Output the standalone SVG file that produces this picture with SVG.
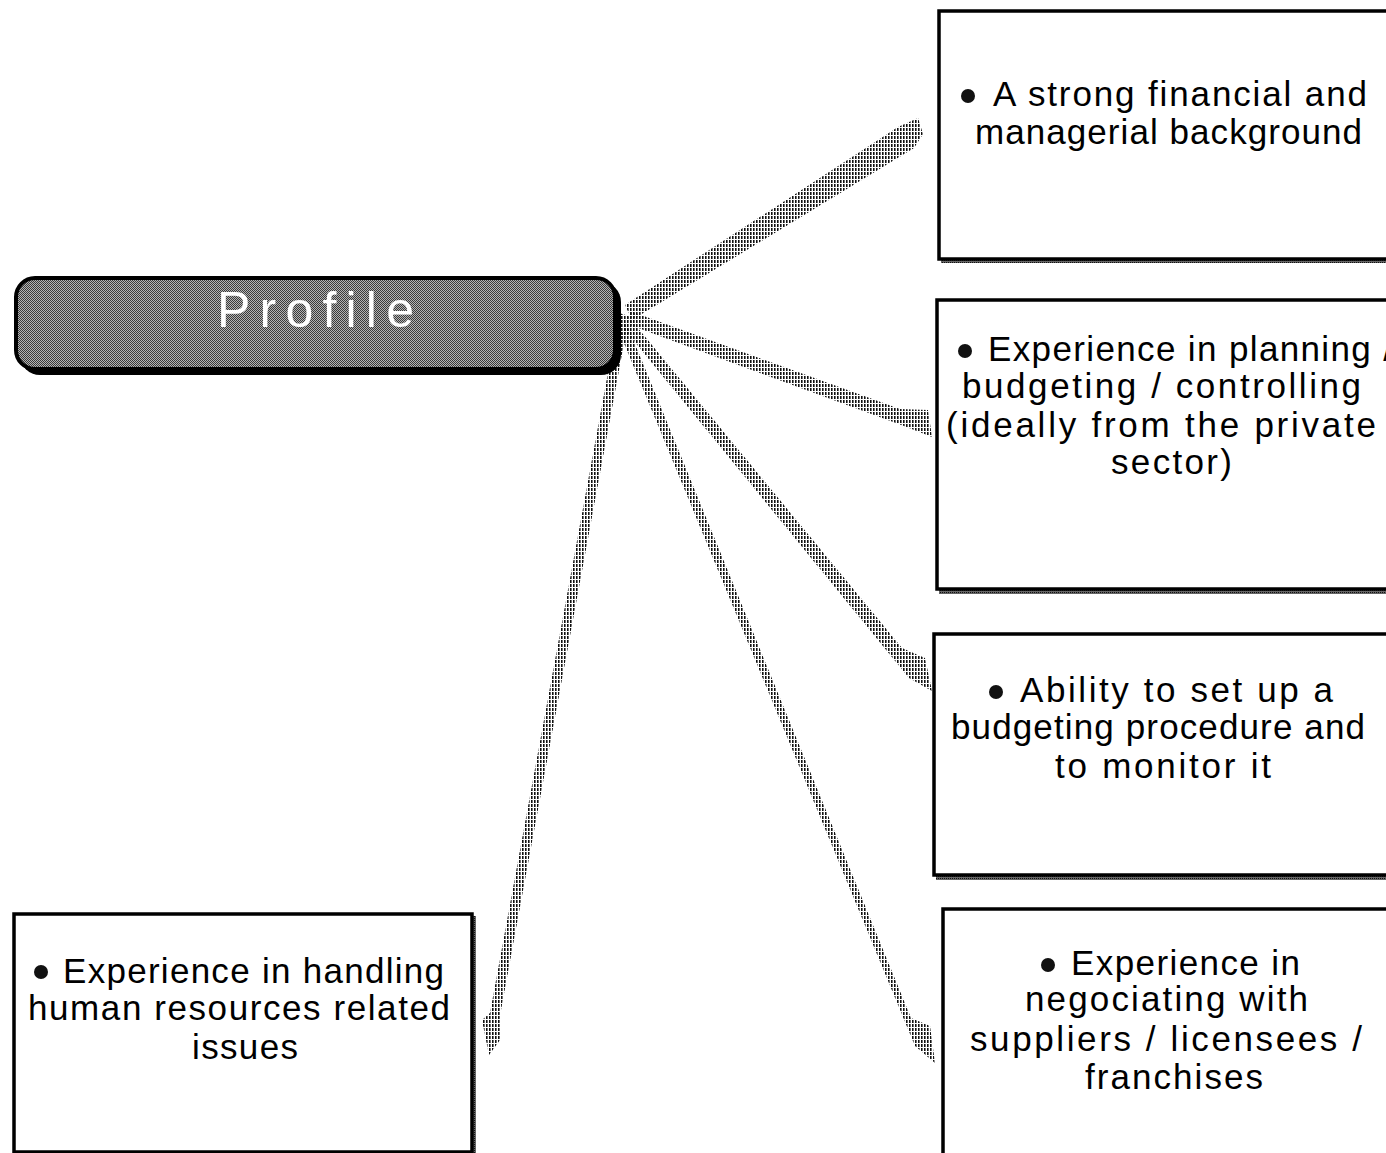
<svg xmlns="http://www.w3.org/2000/svg" width="1386" height="1153" viewBox="0 0 1386 1153">
  <defs>
    <!-- checker dither used for the title bar -->
    <pattern id="dither" width="2" height="2" patternUnits="userSpaceOnUse">
      <rect width="2" height="2" fill="#b4b4b4"/>
      <rect x="0" y="0" width="1" height="1" fill="#3a3a3a"/>
      <rect x="1" y="1" width="1" height="1" fill="#3a3a3a"/>
    </pattern>
    <!-- short vertical strokes used to fill the connector wedges -->
    <pattern id="hatch" width="3" height="4" patternUnits="userSpaceOnUse">
      <rect x="0" y="0" width="1.6" height="3" fill="#111"/>
    </pattern>
    <!-- grey drop shadow under boxes -->
    <pattern id="shade" width="2" height="2" patternUnits="userSpaceOnUse">
      <rect width="2" height="2" fill="#666"/>
      <rect x="0" y="0" width="1" height="1" fill="#111"/>
    </pattern>
  </defs>
  <style>
    .box { fill: #fff; stroke: #000; stroke-width: 3.5; }
    .shadow { fill: url(#shade); }
    .txt { font-family: "Liberation Sans", "DejaVu Sans", sans-serif; font-size: 35px; fill: #000; }
    .bullet { fill: #111; }
    .wedge { fill: url(#hatch); }
  </style>

  <rect width="1386" height="1153" fill="#fff"/>

  <!-- connectors fanning out from the title bar -->
  <g id="connectors">
    <polygon class="wedge" points="625,305 898,127 918,118 923,134 914,148 632,320"/>
    <polygon class="wedge" points="630,311 900,409 928,410 932,437 904,426 630,325"/>
    <polygon class="wedge" points="628,316 902,648 925,658 932,691 909,678 625,330"/>
    <polygon class="wedge" points="626,322 911,1018 930,1026 935,1063 915,1046 621,336"/>
    <polygon class="wedge" points="619,313 629,316 501,1010 500,1040 489,1055 482,1020 490,1013"/>
  </g>

  <!-- title bar -->
  <g id="profile">
    <rect x="20" y="282" width="601" height="93" rx="20" fill="#000"/>
    <rect x="16" y="278" width="599" height="91" rx="19" fill="url(#dither)" stroke="#000" stroke-width="4"/>
    <text x="217" y="327" font-family="Liberation Sans, DejaVu Sans, sans-serif" font-size="50" fill="#fff" textLength="197" lengthAdjust="spacing">Profile</text>
  </g>

  <g id="node-financial">
    <rect class="shadow" x="941" y="258" width="450" height="5"/>
    <rect class="box" x="939" y="11" width="460" height="248"/>
    <circle class="bullet" cx="968" cy="96" r="7"/>
    <text class="txt" x="993" y="106" textLength="374" lengthAdjust="spacing">A strong financial and</text>
    <text class="txt" x="975" y="144" textLength="387" lengthAdjust="spacing">managerial background</text>
  </g>

  <g id="node-planning">
    <rect class="shadow" x="939" y="589" width="450" height="5"/>
    <rect class="box" x="937" y="300" width="462" height="289"/>
    <circle class="bullet" cx="965" cy="351" r="7"/>
    <text class="txt" x="988" y="361" textLength="405" lengthAdjust="spacing">Experience in planning /</text>
    <text class="txt" x="962" y="398" textLength="399" lengthAdjust="spacing">budgeting / controlling</text>
    <text class="txt" x="946" y="437" textLength="430" lengthAdjust="spacing">(ideally from the private</text>
    <text class="txt" x="1111" y="474" textLength="121" lengthAdjust="spacing">sector)</text>
  </g>

  <g id="node-budgeting">
    <rect class="shadow" x="936" y="875" width="452" height="5"/>
    <rect class="box" x="934" y="634" width="465" height="241"/>
    <circle class="bullet" cx="996" cy="692" r="7"/>
    <text class="txt" x="1020" y="702" textLength="313" lengthAdjust="spacing">Ability to set up a</text>
    <text class="txt" x="951" y="739" textLength="414" lengthAdjust="spacing">budgeting procedure and</text>
    <text class="txt" x="1055" y="778" textLength="216" lengthAdjust="spacing">to monitor it</text>
  </g>

  <g id="node-negotiating">
    <rect class="box" x="943" y="909" width="456" height="260"/>
    <circle class="bullet" cx="1048" cy="965" r="7"/>
    <text class="txt" x="1071" y="975" textLength="229" lengthAdjust="spacing">Experience in</text>
    <text class="txt" x="1025" y="1011" textLength="283" lengthAdjust="spacing">negociating with</text>
    <text class="txt" x="970" y="1051" textLength="392" lengthAdjust="spacing">suppliers / licensees /</text>
    <text class="txt" x="1085" y="1089" textLength="178" lengthAdjust="spacing">franchises</text>
  </g>

  <g id="node-hr">
    <rect class="shadow" x="472" y="916" width="4" height="240"/>
    <rect class="box" x="14" y="914" width="458" height="238"/>
    <circle class="bullet" cx="41" cy="972" r="7"/>
    <text class="txt" x="63" y="983" textLength="381" lengthAdjust="spacing">Experience in handling</text>
    <text class="txt" x="28" y="1020" textLength="422" lengthAdjust="spacing">human resources related</text>
    <text class="txt" x="192" y="1059" textLength="106" lengthAdjust="spacing">issues</text>
  </g>
</svg>
